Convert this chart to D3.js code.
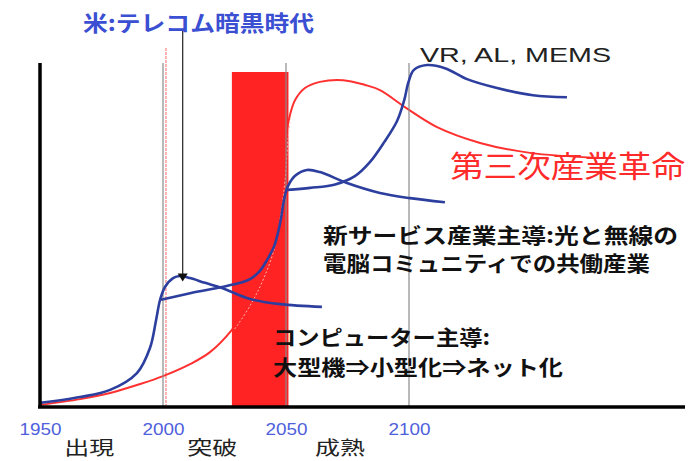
<!DOCTYPE html>
<html>
<head>
<meta charset="utf-8">
<script src="https://cdn.jsdelivr.net/npm/d3@7"></script>
<style>
  body { margin: 0; background: #fff; }
  text { font-family: 'Noto Sans CJK JP', sans-serif; }
</style>
</head>
<body>
<script>
// years on the axis and the stage names under them
var tickYears = [1950, 2000, 2050, 2100];
var stageNames = ['出現', '突破', '成熟'];
var stageYears = [1970, 2020, 2072];

// red band (breakthrough period)
var bandYears = [2028, 2051];

// third industrial revolution (red)
var revolution = [[1950, 0.3], [1966.3, 2], [1978.5, 3.8], [1990.7, 6.4], [2000, 8.7], [2011, 12.2],
  [2019.1, 15.7], [2028, 22.2], [2035.4, 30.3], [2040.2, 37.3], [2044.3, 45.5], [2046.7, 54.2],
  [2048.8, 65.9], [2050.4, 80.5], [2051.6, 84.8], [2053.7, 89.2], [2057.7, 92.7], [2063.8, 94.5],
  [2073.2, 95], [2082.1, 93.6], [2088.2, 92.1], [2098.8, 86.9], [2111.4, 81.3], [2128.9, 76.7],
  [2149.2, 73.8], [2177.6, 72.3]];

// computer-led wave (blue)
var computerWave = [[1950, 0.9], [1966.3, 2.6], [1978.5, 4.7], [1989.4, 9.6], [1994.7, 16.9],
  [1997.2, 25.1], [1998.8, 30.9], [2000.8, 34.7], [2004.1, 37.3], [2006.9, 37.9], [2011, 37.3],
  [2017.1, 35.9], [2024, 34.4], [2035.4, 31.2], [2047.6, 29.7], [2064.6, 28.9]];

// new-service wave (blue)
var serviceWave = [[1999.2, 31], [2011, 32.9], [2024, 34.7], [2031.3, 35.9], [2035.4, 37],
  [2039.4, 39.4], [2042.3, 42.6], [2045.1, 46.4], [2046.7, 50.4], [2048, 54.8], [2048.8, 58.6],
  [2049.6, 61.5], [2050.8, 64.1], [2053.7, 67.1], [2058.5, 68.8], [2063.8, 68.2], [2074.8, 65],
  [2088.2, 62.1], [2100.4, 60.6], [2114.6, 59.4]];

// VR, AL, MEMS wave (blue)
var vrWave = [[2050.6, 63], [2059.8, 63.6], [2070, 64.6], [2078, 67], [2084, 71],
  [2090, 77], [2095.1, 83], [2098, 89], [2099.8, 94.5], [2102, 98], [2107.3, 99.4], [2114.6, 98.5],
  [2123.6, 95.3], [2135.8, 92.7], [2150.4, 90.6], [2164.2, 90]];

var blueWaves = [computerWave, serviceWave, vrWave];

var arrowYear = 2008, arrowLevel = 36.3;
var dashYear = 2001.2;

var width = 689, height = 461;
var blue = '#2c3e9e', red = '#ff3030';

var x = d3.scaleLinear().domain([1950, 2100]).range([40, 409]);
var y = d3.scaleLinear().domain([0, 100]).range([406, 63]);

var svg = d3.select('body').append('svg')
  .attr('width', width)
  .attr('height', height);

var line = d3.line()
  .x(function(d) { return x(d[0]); })
  .y(function(d) { return y(d[1]); })
  .curve(d3.curveCatmullRom.alpha(0.5));

// red dashed marker near 2000
svg.append('line')
  .attr('x1', x(dashYear)).attr('x2', x(dashYear))
  .attr('y1', 48).attr('y2', y(0))
  .attr('stroke', '#ff9a9a').attr('stroke-width', 1.5)
  .attr('stroke-dasharray', '3,1');

svg.append('path')
  .attr('d', line(revolution))
  .attr('fill', 'none')
  .attr('stroke', red)
  .attr('stroke-width', 2);

svg.append('rect')
  .attr('x', x(bandYears[0]))
  .attr('y', 72)
  .attr('width', x(bandYears[1]) - x(bandYears[0]))
  .attr('height', y(0) - 72)
  .attr('fill', '#ff2323');

// faint trace of the red curve through the band
svg.append('clipPath').attr('id', 'band')
  .append('rect')
  .attr('x', x(bandYears[0])).attr('y', 72)
  .attr('width', x(bandYears[1]) - x(bandYears[0]))
  .attr('height', y(0) - 72);

svg.append('path')
  .attr('d', line(revolution))
  .attr('clip-path', 'url(#band)')
  .attr('transform', 'translate(2,0)')
  .attr('fill', 'none')
  .attr('stroke', '#ffb0b0')
  .attr('stroke-width', 1)
  .attr('stroke-dasharray', '2,2');

// gray year lines
svg.selectAll('.grid')
  .data(tickYears.slice(1))
  .enter().append('line')
  .attr('x1', function(d) { return x(d); })
  .attr('x2', function(d) { return x(d); })
  .attr('y1', 63).attr('y2', y(0))
  .attr('stroke', '#8a8a8a')
  .attr('stroke-width', 1.2);

svg.selectAll('.wave')
  .data(blueWaves)
  .enter().append('path')
  .attr('d', line)
  .attr('fill', 'none')
  .attr('stroke', blue)
  .attr('stroke-width', 2.6);

// axes
svg.append('line')
  .attr('x1', 40).attr('x2', 40)
  .attr('y1', 63).attr('y2', 408)
  .attr('stroke', '#000').attr('stroke-width', 3.5);
svg.append('line')
  .attr('x1', 38).attr('x2', 685)
  .attr('y1', 407).attr('y2', 407)
  .attr('stroke', '#000').attr('stroke-width', 3.5);

var axis = svg.append('g')
  .attr('transform', 'translate(0,407)')
  .call(d3.axisBottom(x).tickValues(tickYears).tickSize(0).tickPadding(17).tickFormat(d3.format('d')));
axis.select('.domain').remove();
axis.selectAll('text')
  .style('font-family', 'Liberation Sans, Arial, sans-serif')
  .style('font-size', '16px')
  .attr('fill', '#4f60dc')
  .attr('textLength', 42)
  .attr('lengthAdjust', 'spacingAndGlyphs');

svg.selectAll('.stage')
  .data(stageNames)
  .enter().append('text')
  .attr('x', function(d, i) { return x(stageYears[i]); })
  .attr('y', 455)
  .attr('text-anchor', 'middle')
  .attr('textLength', 50)
  .attr('lengthAdjust', 'spacingAndGlyphs')
  .style('font-size', '19px')
  .attr('fill', '#222')
  .text(function(d) { return d; });

// arrow from the title down to the computer wave peak
svg.append('line')
  .attr('x1', x(arrowYear)).attr('x2', x(arrowYear))
  .attr('y1', 30).attr('y2', y(arrowLevel) - 6)
  .attr('stroke', '#333').attr('stroke-width', 1.3);
svg.append('path')
  .attr('d', 'M' + (x(arrowYear) - 5) + ',' + (y(arrowLevel) - 8) + 'L' + (x(arrowYear) + 5) + ',' + (y(arrowLevel) - 8) + 'L' + x(arrowYear) + ',' + y(arrowLevel) + 'Z')
  .attr('fill', '#111');

function label(t, px, py, size, len, color, weight, family) {
  svg.append('text')
    .attr('x', px).attr('y', py)
    .attr('textLength', len)
    .attr('lengthAdjust', 'spacingAndGlyphs')
    .style('font-size', size + 'px')
    .style('font-weight', weight)
    .style('font-family', family || null)
    .attr('fill', color)
    .text(t);
}

label('米:テレコム暗黒時代', 83, 31, 22, 231, '#3b4fd2', 'bold');
label('VR, AL, MEMS', 420, 62, 21, 191, '#222', 'normal', 'Liberation Sans, Arial, sans-serif');
label('第三次産業革命', 450, 177, 30, 235, '#ff2a2a', 'normal');
label('新サービス産業主導:光と無線の', 323, 243, 21, 355, '#111', 'bold');
label('電脳コミュニティでの共働産業', 323, 271, 21, 327, '#111', 'bold');
label('コンピューター主導:', 273, 345, 21, 217, '#111', 'bold');
label('大型機⇒小型化⇒ネット化', 273, 375, 21, 290, '#111', 'bold');
</script>
</body>
</html>
